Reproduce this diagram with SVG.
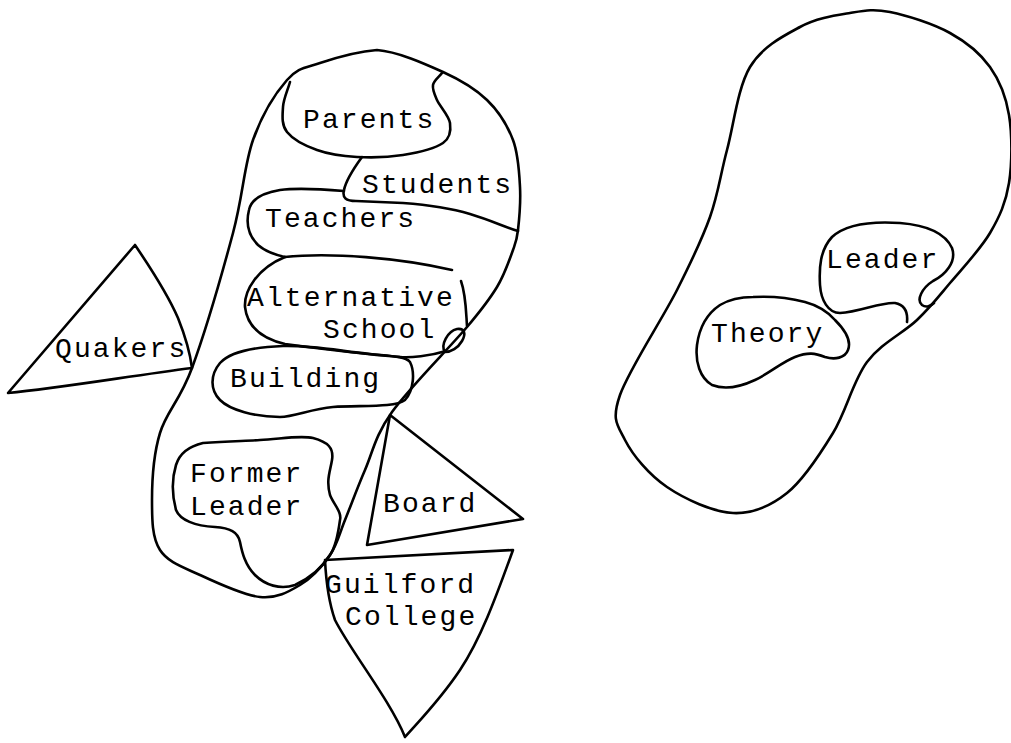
<svg xmlns="http://www.w3.org/2000/svg" width="1011" height="743" viewBox="0 0 1011 743">
<style>
.s{fill:none;stroke:#000;stroke-width:2.6;stroke-linejoin:round;stroke-linecap:round}
.t{font-family:"Liberation Mono","Courier New",monospace;font-size:28px;letter-spacing:2.1px;fill:#000}
</style>
<rect width="1011" height="743" fill="#fff"/>
<g id="school-outline">
<path class="s" d="M377,50 C397.5,51.5 424.7,63.7 443,72 C461.3,80.3 475.3,88.7 487,100 C498.7,111.3 507.5,125.5 513,140 C518.5,154.5 519.2,172 520,187 C520.8,202 519.2,219.5 518,230 C516.8,240.5 516.5,240.5 513,250 C509.5,259.5 504.7,274.2 497,287 C489.3,299.8 484.5,306.2 467,327 C449.5,347.8 409,388.2 392,412 C375,435.8 372.8,452 365,470 C357.2,488 350.8,505.8 345,520 C339.2,534.2 337.5,544.2 330,555 C322.5,565.8 311.7,578 300,585 C288.3,592 276.7,598.7 260,597 C243.3,595.3 216.7,582.8 200,575 C183.3,567.2 168,562.5 160,550 C152,537.5 152,519.5 152,500 C152,480.5 153.3,455 160,433 C166.7,411 179.8,401.3 192,368 C204.2,334.7 222.8,271 233,233 C243.2,195 244,165.5 253,140 C262,114.5 275.8,92.8 287,80 C298.2,67.2 305,68 320,63 C335,58 356.5,51.5 377,50 Z"/>
</g>
<g id="parents">
<path class="s" d="M290,82 C287.7,90.3 283.5,98.7 283,107 C282.5,115.3 281.3,124.8 287,132 C292.7,139.2 305.3,145.8 317,150 C328.7,154.2 342.7,156.2 357,157 C371.3,157.8 388.7,157.3 403,155 C417.3,152.7 435.2,148.3 443,143 C450.8,137.7 451,130.2 450,123 C449,115.8 439.8,106.3 437,100 C434.2,93.7 432.2,89.5 433,85 C433.8,80.5 439,77 442,73"/>
<text class="t" x="303" y="128">Parents</text>
</g>
<g id="students">
<path class="s" d="M362,157 C354,168 346,180 344,190 C342,198 346,201 356,201 L403,203 C430,205 450,208 470,214 C490,220 505,227 518,231"/>
<text class="t" x="362" y="193">Students</text>
</g>
<g id="teachers">
<path class="s" d="M344,191 C320,189 295,188 280,190 C262,193 251,200 249,210 C246,222 248,235 258,245 C266,252 276,255 285,257"/>
<text class="t" x="265" y="227">Teachers</text>
</g>
<g id="alternative-school">
<path class="s" d="M285,257 C330,252 400,258 452,270"/>
<path class="s" d="M461,281 C466,295 466,312 467,326"/>
<path class="s" d="M446,351 C430,356 410,358 400,357 C375,355 330,350 285,344 C260,338 247,325 245,307 C244,290 258,268 285,257"/>
<path class="s" d="M445,352 C440,345 448,331 457,329 C465,328 466,334 462,341 C458,348 451,352 445,352 Z"/>
<text class="t" x="247" y="306">Alternative</text>
<text class="t" x="323" y="338">School</text>
</g>
<g id="building">
<path class="s" d="M283,346 C310,345 340,351 370,354 C390,356 405,356 410,362 C415,372 414,390 405,400 C395,408 360,405 333,407 C310,409 295,417 280,417 C255,417 230,410 220,400 C210,390 210,375 220,363 C230,352 255,347 283,346 Z"/>
<text class="t" x="230" y="387">Building</text>
</g>
<g id="former-leader">
<path class="s" d="M203,443 C230,441 250,441 260,440 C280,439 300,435 313,438 C328,442 334,448 332,460 C330,472 326,480 330,495 C334,505 342,512 340,520 C338,535 335,548 330,555 C322,568 310,578 295,585 C280,590 265,585 255,575 C245,565 242,552 240,542 C238,532 230,528 215,527 C195,526 180,520 176,510 C172,495 172,478 176,465 C180,452 190,446 203,443 Z"/>
<text class="t" x="190" y="482">Former</text>
<text class="t" x="190" y="515">Leader</text>
</g>
<g id="quakers">
<path class="s" d="M135,245 C152,270 168,295 178,318 C186,338 190,352 192,368 C130,376 60,388 8,393 L135,245 Z"/>
<text class="t" x="55" y="357">Quakers</text>
</g>
<g id="board">
<path class="s" d="M390,415 L523,519 L367,545 Z"/>
<text class="t" x="383" y="512">Board</text>
</g>
<g id="guilford-college">
<path class="s" d="M325,560 L513,550 C495,600 480,640 460,670 C440,700 420,720 405,737 C390,700 350,650 335,620 C328,600 326,580 325,560 Z"/>
<text class="t" x="325" y="593">Guilford</text>
<text class="t" x="345" y="625">College</text>
</g>
<g id="right-outline">
<path class="s" d="M890,12 C906.7,15.3 933.3,23.8 950,33 C966.7,42.2 980.2,53.3 990,67 C999.8,80.7 1005.8,95.7 1009,115 C1012.2,134.3 1012.2,163.3 1009,183 C1005.8,202.7 999.8,216.3 990,233 C980.2,249.7 962.2,268.5 950,283 C937.8,297.5 930.8,306.8 917,320 C903.2,333.2 881,343.2 867,362 C853,380.8 846.3,411.2 833,433 C819.7,454.8 803.7,479.7 787,493 C770.3,506.3 753,514 733,513 C713,512 685,499.2 667,487 C649,474.8 632.8,455.3 625,440 C617.2,424.7 611.3,420 620,395 C628.7,370 662,319.7 677,290 C692,260.3 701.7,240.3 710,217 C718.3,193.7 720.3,175 727,150 C733.7,125 737.8,87.5 750,67 C762.2,46.5 783.3,36 800,27 C816.7,18 835,15.5 850,13 C865,10.5 873.3,8.7 890,12 Z"/>
</g>
<g id="leader">
<path class="s" d="M907,322 C908,312 905,305 895,303 C880,302 860,312 840,313 C828,313 821,300 820,285 C819,268 820,250 832,237 C845,225 870,221 900,223 C925,225 945,233 952,248 C957,262 945,275 933,281 C922,288 916,300 922,305 C926,308 931,306 934,303"/>
<text class="t" x="826" y="268">Leader</text>
</g>
<g id="theory">
<path class="s" d="M753,297 C770,296 790,298 805,302 C820,306 828,312 835,320 C845,330 852,340 848,350 C845,358 835,360 825,357 C815,353 808,352 795,357 C782,362 770,373 755,380 C740,387 725,390 712,385 C700,378 695,362 697,345 C699,330 705,315 720,305 C730,299 742,297 753,297 Z"/>
<text class="t" x="711" y="342">Theory</text>
</g>
<g id="connectors"></g>
</svg>
